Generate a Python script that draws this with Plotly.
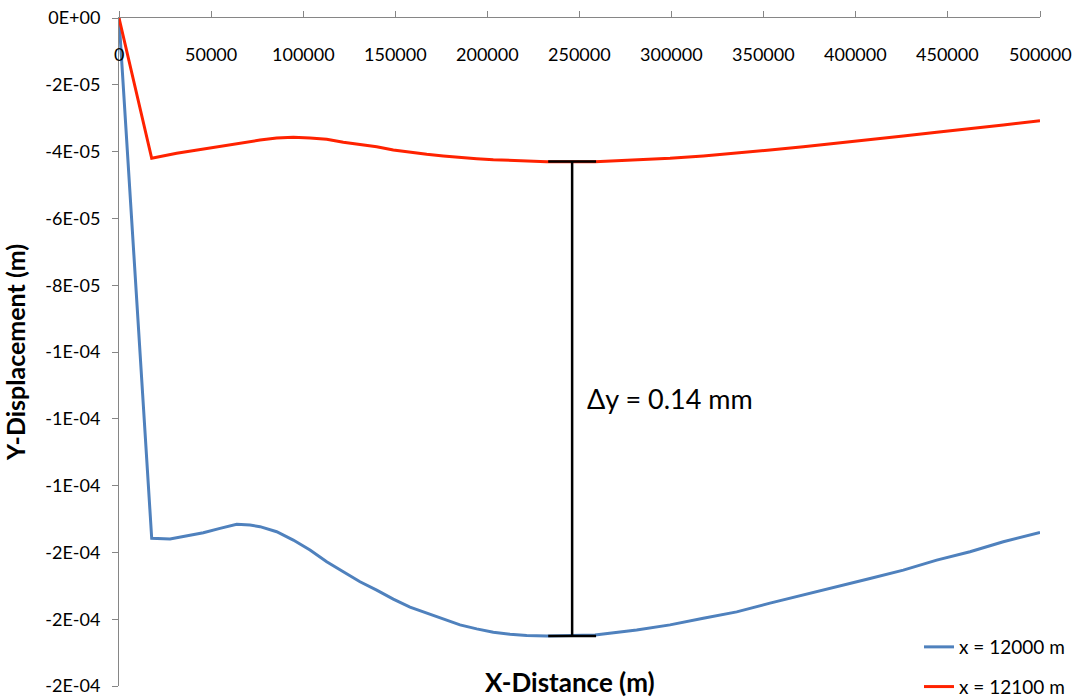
import plotly.graph_objects as go

# ---- data ----
x_blue = [0, 17750, 27690, 36750, 45770, 54830, 63900, 71120, 76550, 85610,
          94620, 103690, 112760, 121770, 130840, 139900, 148910, 157980,
          167050, 176060, 185130, 194190, 203200, 212270, 221330, 232190,
          258420, 281050, 299130, 317210, 335340, 353420, 371500, 389630,
          407710, 425790, 443920, 462000, 480080, 500000]
y_blue = [0, -1.558e-4, -1.560e-4, -1.551e-4, -1.541e-4, -1.528e-4, -1.516e-4,
          -1.518e-4, -1.523e-4, -1.538e-4, -1.563e-4, -1.593e-4, -1.628e-4,
          -1.658e-4, -1.688e-4, -1.713e-4, -1.740e-4, -1.764e-4, -1.782e-4,
          -1.800e-4, -1.817e-4, -1.829e-4, -1.839e-4, -1.845e-4, -1.849e-4,
          -1.850e-4, -1.847e-4, -1.832e-4, -1.817e-4, -1.797e-4, -1.778e-4,
          -1.752e-4, -1.728e-4, -1.703e-4, -1.678e-4, -1.653e-4, -1.623e-4,
          -1.598e-4, -1.568e-4, -1.540e-4]

x_red = [0, 17750, 31320, 49400, 67480, 76550, 85610, 94620, 103690, 112760,
         121770, 130840, 139900, 148910, 157980, 167050, 176060, 185130,
         194190, 203200, 212270, 221330, 232190, 258420, 281050, 299130,
         317210, 335340, 353420, 371500, 389630, 407710, 425790, 443920,
         462000, 480080, 500000]
y_red = [0, -4.201e-5, -4.051e-5, -3.883e-5, -3.722e-5, -3.653e-5, -3.593e-5,
         -3.572e-5, -3.593e-5, -3.632e-5, -3.722e-5, -3.781e-5, -3.853e-5,
         -3.952e-5, -4.021e-5, -4.081e-5, -4.132e-5, -4.183e-5, -4.213e-5,
         -4.243e-5, -4.260e-5, -4.281e-5, -4.302e-5, -4.302e-5, -4.251e-5,
         -4.201e-5, -4.132e-5, -4.051e-5, -3.952e-5, -3.853e-5, -3.751e-5,
         -3.632e-5, -3.533e-5, -3.422e-5, -3.323e-5, -3.204e-5, -3.075e-5]

series_names = ["x = 12000 m", "x = 12100 m"]

x_tickvals = [0, 50000, 100000, 150000, 200000, 250000, 300000, 350000,
              400000, 450000, 500000]
x_ticktext = [str(v) for v in x_tickvals]
y_tickvals = [0, -2e-5, -4e-5, -6e-5, -8e-5, -1.0e-4, -1.2e-4, -1.4e-4,
              -1.6e-4, -1.8e-4, -2.0e-4]
y_ticktext = ["0E+00", "-2E-05", "-4E-05", "-6E-05", "-8E-05", "-1E-04",
              "-1E-04", "-1E-04", "-2E-04", "-2E-04", "-2E-04"]

# delta marker
delta_x = 246000
delta_top = -4.30e-5
delta_bottom = -1.85e-4
cap_half = 13000
delta_label = "Δy = 0.14 mm"
label_x = 253000
label_y = -1.138e-4

FONT = "Lato"
AXIS_COLOR = "#868686"

fig = go.Figure()
fig.add_trace(go.Scatter(x=x_blue, y=y_blue, mode="lines", name=series_names[0],
                         line=dict(color="#4F81BD", width=3), legendgroup="a"))
fig.add_trace(go.Scatter(x=x_red, y=y_red, mode="lines", name=series_names[1],
                         line=dict(color="#FF2200", width=3), legendgroup="b"))
fig.add_trace(go.Scatter(
    x=[delta_x - cap_half, delta_x + cap_half, None, delta_x, delta_x, None,
       delta_x - cap_half, delta_x + cap_half],
    y=[delta_top, delta_top, None, delta_top, delta_bottom, None,
       delta_bottom, delta_bottom],
    mode="lines", line=dict(color="black", width=2.5), showlegend=False,
    hoverinfo="skip"))

# x tick labels drawn below the top axis line
for v, t in zip(x_tickvals, x_ticktext):
    fig.add_annotation(x=v, y=1, xref="x", yref="paper", text=t,
                       showarrow=False, xanchor="center", yanchor="top",
                       yshift=-23, font=dict(family=FONT, size=18, color="black"))

fig.add_annotation(x=label_x, y=label_y, text=delta_label, showarrow=False,
                   xanchor="left", yanchor="middle",
                   font=dict(family=FONT, size=27, color="black"))
fig.add_annotation(x=0.49, y=0, xref="paper", yref="paper",
                   text="<b>X-Distance (m)</b>", showarrow=False,
                   xanchor="center", yanchor="middle", yshift=4,
                   font=dict(family=FONT, size=26, color="black"))

fig.update_layout(
    width=1076, height=698,
    margin=dict(l=119, r=36, t=18, b=12, autoexpand=False),
    paper_bgcolor="white", plot_bgcolor="white",
    font=dict(family=FONT, size=18, color="black"),
    legend=dict(x=0.8686, y=0.0868, xanchor="left", yanchor="top",
                xref="paper", yref="paper", bgcolor="rgba(0,0,0,0)",
                font=dict(family=FONT, size=19), tracegroupgap=12,
                traceorder="grouped"),
    xaxis=dict(range=[0, 500000], side="top", tickvals=x_tickvals,
               showticklabels=False, ticks="outside", ticklen=6,
               tickcolor=AXIS_COLOR, showline=True, linecolor=AXIS_COLOR,
               linewidth=1, showgrid=False, zeroline=False,
               automargin=False),
    yaxis=dict(range=[-2.0e-4, 0], tickvals=y_tickvals, ticktext=y_ticktext,
               ticks="outside", ticklen=6, tickcolor=AXIS_COLOR,
               showline=True, linecolor=AXIS_COLOR, linewidth=1,
               showgrid=False, zeroline=False, automargin=False,
               ticklabelstandoff=8, ticklabeloverflow="allow",
               tickfont=dict(family=FONT, size=18),
               title=dict(text="<b>Y-Displacement (m)</b>", standoff=12,
                          font=dict(family=FONT, size=25))),
)

fig.write_html("out.html")
